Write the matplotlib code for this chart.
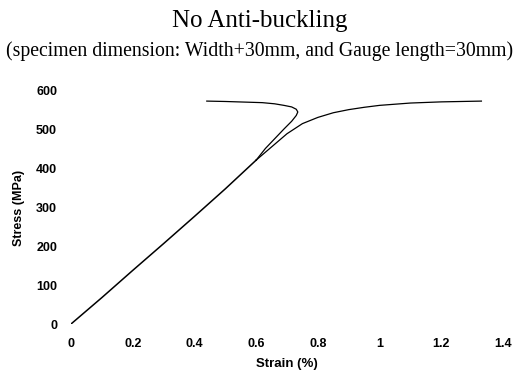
import matplotlib
matplotlib.use("Agg")
import matplotlib.pyplot as plt

# elastic part, shared by both branches
strain_elastic = [0, 0.1, 0.2, 0.3, 0.4, 0.5, 0.6]
stress_elastic = [0, 68, 138, 207, 277, 348, 422]

# branch that turns back (buckling loop)
strain_loop = [0.6, 0.63, 0.66, 0.69, 0.715, 0.73, 0.735, 0.73, 0.715, 0.69, 0.66, 0.62, 0.58, 0.54, 0.50, 0.44]
stress_loop = [422, 452, 477, 502, 522, 537, 546, 553, 559, 563, 567, 570, 571, 572, 573, 574]

# branch that yields and flattens out
strain_plastic = [0.6, 0.65, 0.70, 0.75, 0.80, 0.85, 0.90, 0.95, 1.0, 1.1, 1.2, 1.33]
stress_plastic = [422, 456, 490, 516, 532, 544, 552, 558, 563, 569, 572, 574]

xticks = [0, 0.2, 0.4, 0.6, 0.8, 1.0, 1.2, 1.4]
xticklabels = ["0", "0.2", "0.4", "0.6", "0.8", "1", "1.2", "1.4"]
yticks = [0, 100, 200, 300, 400, 500, 600]

fig = plt.figure(figsize=(5.19, 3.79), dpi=100)
ax = fig.add_axes([0.1368, 0.1451, 0.8324, 0.6148])

ax.plot(strain_elastic, stress_elastic, color="black", lw=1.1)
ax.plot(strain_loop, stress_loop, color="black", lw=0.9)
ax.plot(strain_plastic, stress_plastic, color="black", lw=0.9)

ax.set_xlim(0, 1.4)
ax.set_ylim(0, 600)
for s in ax.spines.values():
    s.set_visible(False)
ax.set_xticks(xticks)
ax.set_xticklabels(xticklabels)
ax.set_yticks(yticks)
ax.tick_params(length=0, labelsize=9, pad=10)
for lab in ax.get_xticklabels() + ax.get_yticklabels():
    lab.set_fontweight("bold")
    lab.set_fontfamily("Liberation Sans")

ax.set_xlabel("Strain (%)", fontsize=9.5, fontweight="bold", family="Liberation Sans", labelpad=6)
ax.set_ylabel("Stress (MPa)", fontsize=9, fontweight="bold", family="Liberation Sans", labelpad=8)

fig.text(0.501, 0.945, "No Anti-buckling", ha="center", va="center",
         family="Liberation Serif", fontsize=18)
fig.text(0.501, 0.865, "(specimen dimension: Width+30mm, and Gauge length=30mm)",
         ha="center", va="center", family="Liberation Serif", fontsize=14.2)

plt.savefig("out.png", dpi=100)
